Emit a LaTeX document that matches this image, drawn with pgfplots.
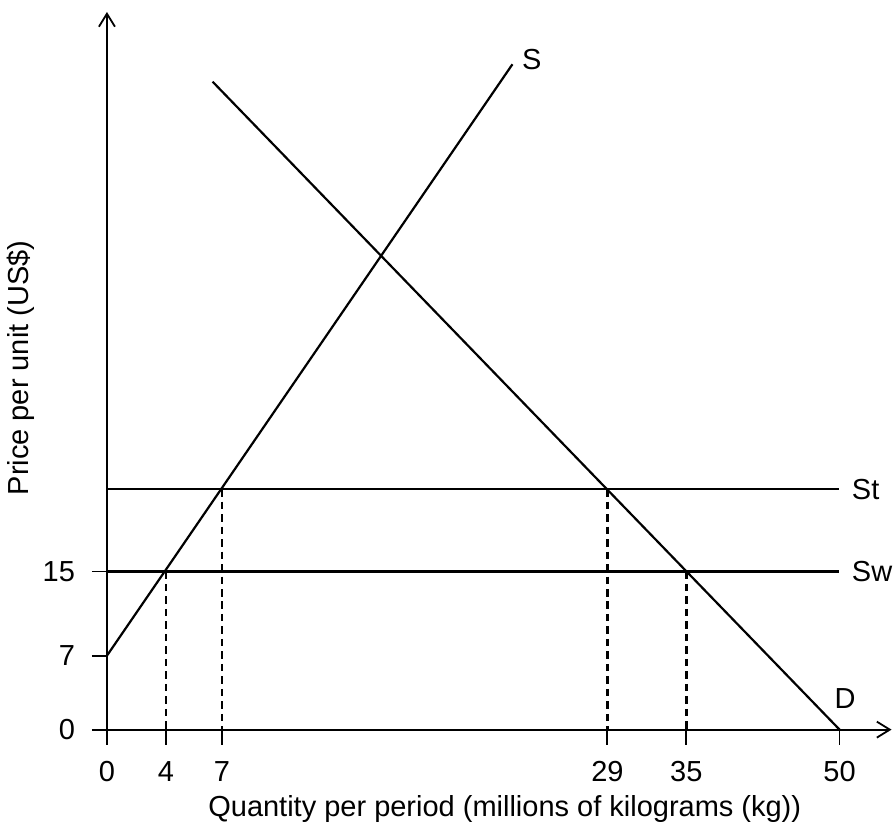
\documentclass[border=0pt]{standalone}
\usepackage{fontspec}
\setmainfont{Liberation Sans}
\usepackage{pgfplots}
\pgfplotsset{compat=1.18}
\usetikzlibrary{arrows.meta}

\begin{document}
\begin{tikzpicture}
\begin{axis}[
    x=0.5pt, y=0.5pt,
    xmin=0, xmax=785, ymin=0, ymax=718,
    axis lines=left,
    axis line style={line width=0.9pt, -{Straight Barb[length=6.5pt,width=8pt,line width=0.9pt]}},
    tick align=outside,
    major tick length=7.5pt,
    tick style={black, line width=0.9pt},
    xtick={0,59,115,500.7,579.7,733},
    xticklabels={0,4,7,29,35,50},
    ytick={0,74,158.3},
    yticklabels={0,7,15},
    tick label style={font=\fontsize{14.5}{17}\selectfont},
    xticklabel style={yshift=-5pt},
    yticklabel style={xshift=-5pt},
    /pgf/number format/assume math mode=true,
    xlabel={Quantity per period (millions of kilograms (kg))},
    ylabel={Price per unit (US\$)},
    every axis x label/.style={at={(axis description cs:0.507,-0.1212)}, anchor=base,
        font=\fontsize{14.5}{17}\selectfont},
    every axis y label/.style={at={(axis description cs:-0.1096,0.504)}, rotate=90, anchor=center,
        font=\fontsize{14.5}{17}\selectfont},
    clip=false,
]
% invisible frame with the reference's margins
\path (axis cs:-107,-102) rectangle (axis cs:786,730);

% supply S
\addplot[black, line width=1.1pt] coordinates {(0,74) (405.7,665.7)};
% demand D
\addplot[black, line width=1.1pt] coordinates {(105.7,648.3) (733,0)};
% St and Sw
\addplot[black, line width=1.1pt] coordinates {(0,240.7) (732,240.7)};
\addplot[black, line width=1.1pt] coordinates {(0,158.3) (732,158.3)};

% dashed drop lines
\addplot[black, line width=1.2pt, dash pattern=on 3.75pt off 2.5pt] coordinates {(59,158.3) (59,0)};
\addplot[black, line width=1.2pt, dash pattern=on 3.75pt off 2.5pt] coordinates {(115,240.7) (115,0)};
\addplot[black, line width=1.2pt, dash pattern=on 3.75pt off 2.5pt] coordinates {(500.7,240.7) (500.7,0)};
\addplot[black, line width=1.2pt, dash pattern=on 3.75pt off 2.5pt] coordinates {(579.7,158.3) (579.7,0)};

\node[font=\fontsize{14.5}{17}\selectfont] at (axis cs:425,670) {S};
\node[font=\fontsize{14.5}{17}\selectfont] at (axis cs:738.5,31) {D};
\node[font=\fontsize{14.5}{17}\selectfont, anchor=west, inner sep=0pt] at (axis cs:745,240.7) {St};
\node[font=\fontsize{14.5}{17}\selectfont, anchor=west, inner sep=0pt] at (axis cs:745,158.3) {Sw};
\end{axis}
\end{tikzpicture}
\end{document}
